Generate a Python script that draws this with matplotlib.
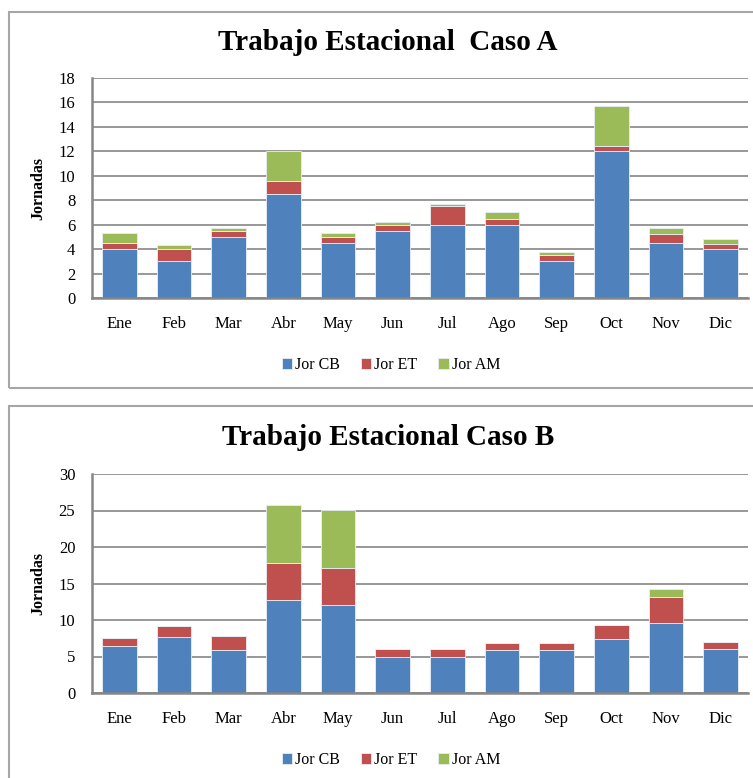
import matplotlib
matplotlib.use("Agg")
import matplotlib.pyplot as plt
from matplotlib.patches import Rectangle
import numpy as np

meses = ["Ene", "Feb", "Mar", "Abr", "May", "Jun", "Jul", "Ago", "Sep", "Oct", "Nov", "Dic"]
series = ["Jor CB", "Jor ET", "Jor AM"]
colores = ["#4F81BD", "#C0504D", "#9BBB59"]

# Caso A
cb_a = [4, 3, 5, 8.55, 4.5, 5.5, 6, 6, 3, 12, 4.5, 4]
et_a = [0.5, 1, 0.5, 1, 0.5, 0.5, 1.5, 0.5, 0.5, 0.45, 0.75, 0.45]
am_a = [0.8, 0.3, 0.25, 2.45, 0.3, 0.25, 0.2, 0.5, 0.25, 3.25, 0.45, 0.35]

# Caso B
cb_b = [6.5, 7.7, 5.9, 12.7, 12.0, 5.0, 5.0, 5.9, 5.9, 7.35, 9.55, 6.0]
et_b = [1.0, 1.5, 1.95, 5.1, 5.1, 1.0, 1.0, 0.95, 0.95, 2.0, 3.65, 1.0]
am_b = [0, 0, 0, 7.9, 7.95, 0, 0, 0, 0, 0, 1.05, 0]

plt.rcParams["font.family"] = ["Liberation Serif", "DejaVu Serif"]

W, H = 753, 778
fig = plt.figure(figsize=(W / 100, H / 100), dpi=100)

GRIS = "#868686"


def caja(y_top, y_bot):
    # marco gris alrededor de cada grafico
    fig.patches.append(Rectangle((9 / W, 1 - y_bot / H), (W + 20) / W, (y_bot - y_top) / H,
                                 transform=fig.transFigure, fill=False,
                                 edgecolor="#A6A6A6", linewidth=1.5))


def grafico(y0, y1, datos, ymax, paso, titulo, y_titulo, y_leyenda):
    ax = fig.add_axes([92 / W, 1 - y0 / H, (748 - 92) / W, (y0 - y1) / H])
    x = np.arange(len(meses))
    base = np.zeros(len(meses))
    for vals, nombre, col in zip(datos, series, colores):
        ax.bar(x, vals, width=0.64, bottom=base, color=col, label=nombre,
               edgecolor="#E8EEF6", linewidth=0.6, zorder=3)
        base = base + np.array(vals)
    ax.set_xlim(-0.5, len(meses) - 0.5)
    ax.set_ylim(0, ymax)
    ax.set_yticks(np.arange(0, ymax + 0.1, paso))
    ax.set_xticks(x)
    ax.set_xticklabels(meses)
    ax.tick_params(axis="both", length=0, labelsize=12, colors="black")
    ax.tick_params(axis="x", pad=13)
    ax.tick_params(axis="y", pad=12)
    ax.grid(axis="y", color=GRIS, linewidth=1.2, zorder=0)
    for s in ["top", "right"]:
        ax.spines[s].set_visible(False)
    for s in ["left", "bottom"]:
        ax.spines[s].set_color(GRIS)
        ax.spines[s].set_linewidth(1.8)
        ax.spines[s].set_zorder(4)
    ax.set_ylabel("Jornadas", fontsize=11.5, fontweight="bold")
    ax.yaxis.set_label_coords(-0.070, 0.5)
    fig.text(388 / W, 1 - y_titulo / H, titulo, ha="center", va="center",
             fontsize=21, fontweight="bold")
    fig.legend(*ax.get_legend_handles_labels(), loc="center",
               bbox_to_anchor=(391 / W, 1 - y_leyenda / H), ncol=3, frameon=False,
               fontsize=11.5, handlelength=0.65, handleheight=0.65,
               handletextpad=0.2, columnspacing=1.3)
    return ax


caja(12, 388)
caja(406, H + 20)

grafico(298, 78, [cb_a, et_a, am_a], 18, 2, "Trabajo Estacional  Caso A", 42, 365)
grafico(693, 474, [cb_b, et_b, am_b], 30, 5, "Trabajo Estacional Caso B", 437, 760)

fig.savefig("out.png", dpi=100)
